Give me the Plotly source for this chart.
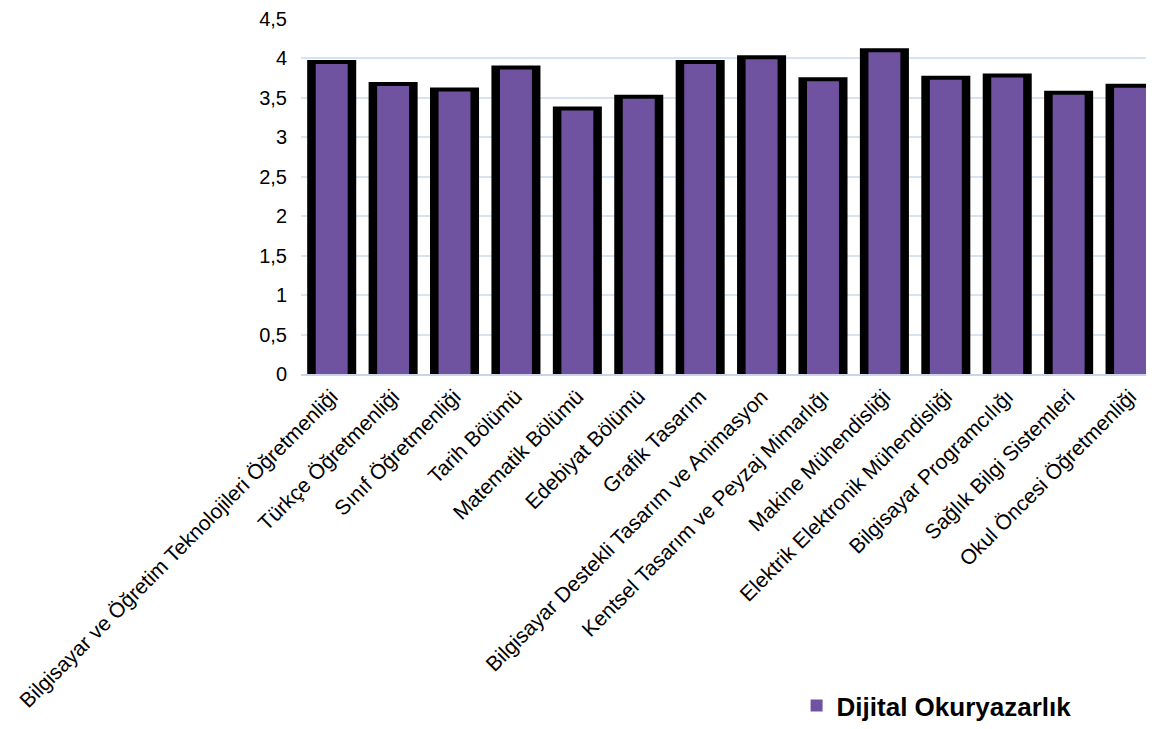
import plotly.graph_objects as go

bolumler = [
    'Bilgisayar ve Öğretim Teknolojileri Öğretmenliği',
    'Türkçe Öğretmenliği',
    'Sınıf Öğretmenliği',
    'Tarih Bölümü',
    'Matematik Bölümü',
    'Edebiyat Bölümü',
    'Grafik Tasarım',
    'Bilgisayar Destekli Tasarım ve Animasyon',
    'Kentsel Tasarım ve Peyzaj Mimarlığı',
    'Makine Mühendisliği',
    'Elektrik Elektronik Mühendisliği',
    'Bilgisayar Programcılığı',
    'Sağlık Bilgi Sistemleri',
    'Okul Öncesi Öğretmenliği',
]
dijital_okuryazarlik = [3.93, 3.65, 3.58, 3.86, 3.34, 3.49, 3.93, 3.99,
                        3.71, 4.08, 3.73, 3.76, 3.54, 3.63]
y_ticks = [0, 0.5, 1, 1.5, 2, 2.5, 3, 3.5, 4, 4.5]
y_tick_text = ['0', '0,5', '1', '1,5', '2', '2,5', '3', '3,5', '4', '4,5']

FONT = 'Liberation Sans, Arial, sans-serif'
MOR = '#7053a0'

fig = go.Figure()
#siyah cerceve
fig.add_trace(go.Bar(
    x=bolumler,
    y=dijital_okuryazarlik,
    width=0.668,
    marker=dict(color='black', line=dict(color='black', width=8)),
    showlegend=False,
    hoverinfo='skip'
))
#mor dolgu
fig.add_trace(go.Bar(
    x=bolumler,
    y=dijital_okuryazarlik,
    width=0.52,
    marker=dict(color=MOR, line=dict(width=0)),
    name='Dijital Okuryazarlık',
    hovertemplate='%{x}: %{y:.2f}<extra></extra>'
))

# sayfa govdesi 8px kaydirdigi icin boyutlar ona gore
fig.update_layout(
    width=1146,
    height=721,
    barmode='overlay',
    plot_bgcolor='white',
    paper_bgcolor='white',
    font=dict(family=FONT, color='black'),
    margin=dict(l=293, r=0, t=11, b=350),
    xaxis=dict(
        range=[-0.5, 13.39],
        tickangle=-45,
        tickfont=dict(size=21, family=FONT, color='black'),
        showgrid=False,
        showline=True,
        linecolor='#c8d5e8',
        linewidth=2,
        ticks='',
        automargin=False
    ),
    yaxis=dict(
        range=[0, 4.5],
        tickvals=y_ticks,
        ticktext=y_tick_text,
        tickfont=dict(size=20, family=FONT, color='black'),
        showgrid=True,
        gridcolor='#d8e3f2',
        gridwidth=2,
        zeroline=False,
        showline=False,
        ticklabelstandoff=13,
        automargin=False
    ),
    showlegend=True,
    legend=dict(
        x=0.581, y=-0.935,
        xanchor='left', yanchor='middle',
        font=dict(size=26, family=FONT, color='black', weight='bold'),
        bgcolor='rgba(0,0,0,0)',
        borderwidth=0
    )
)

fig.write_html("out.html")
